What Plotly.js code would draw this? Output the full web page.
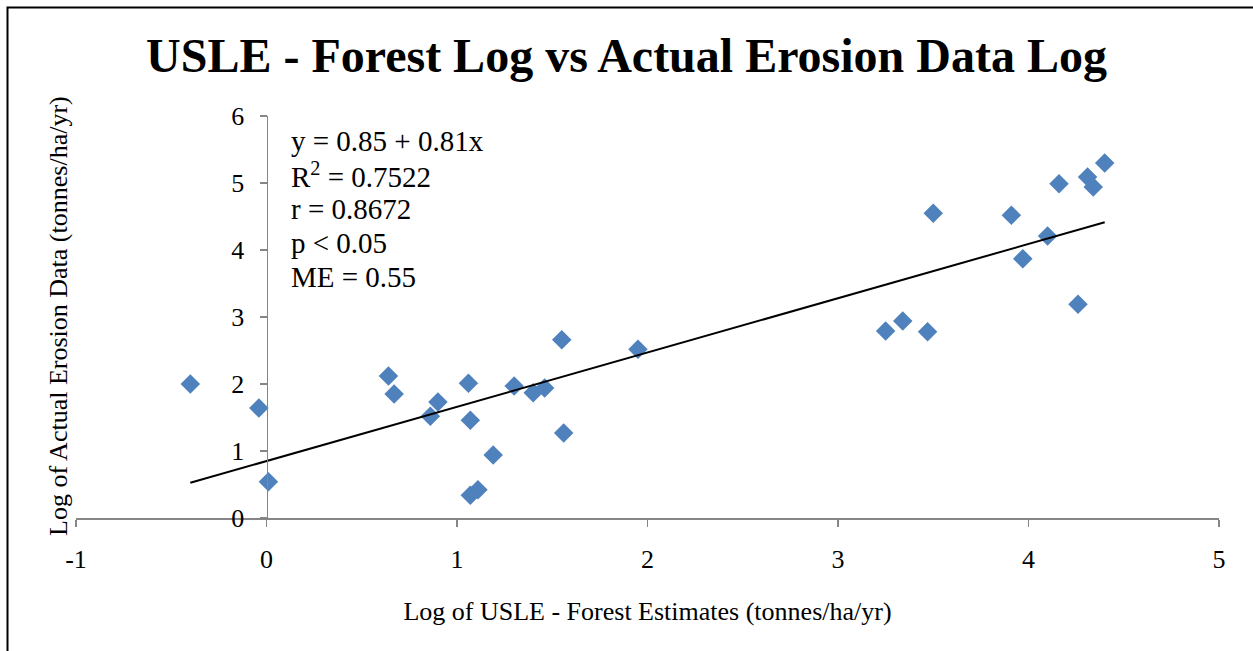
<!DOCTYPE html>
<html><head><meta charset="utf-8">
<script src="https://cdn.plot.ly/plotly-3.0.1.min.js"></script>
<style>html,body{margin:0;padding:0;background:#fff;}#chart{width:1253px;height:651px;}</style>
</head><body><div id="chart"></div>
<script>
const usleLog = [-0.40,-0.04,0.01,0.64,0.67,0.86,0.90,1.06,1.07,1.07,1.11,1.19,1.30,1.40,1.46,1.55,1.56,1.95,3.25,3.34,3.47,3.50,3.91,3.97,4.10,4.16,4.26,4.31,4.34,4.40];
const actualLog = [2.00,1.64,0.54,2.12,1.85,1.52,1.73,2.01,1.46,0.34,0.42,0.94,1.97,1.87,1.94,2.66,1.27,2.52,2.79,2.94,2.78,4.55,4.52,3.87,4.21,4.99,3.19,5.09,4.94,5.30];
const intercept = 0.85, slope = 0.81;
const statsLines = ["y = 0.85 + 0.81x","R<sup>2</sup> = 0.7522","r = 0.8672","p &lt; 0.05","ME = 0.55"];
const xTicks = [-1,0,1,2,3,4,5];
const yTicks = [0,1,2,3,4,5,6];

const xmin = Math.min(...usleLog), xmax = Math.max(...usleLog);
const trendX = [xmin, xmax];
const trendY = trendX.map(v => intercept + slope*v);

const serif = "'Liberation Serif', 'Times New Roman', serif";
const data = [
  {x: usleLog, y: actualLog, type:'scatter', mode:'markers',
   marker:{symbol:'diamond', size:15, color:'#4F81BD'}, hoverinfo:'x+y'},
  {x: trendX, y: trendY, type:'scatter', mode:'lines', line:{color:'#000', width:2}, hoverinfo:'skip'}
];
const statAnn = statsLines.map((t,i) => ({
  text:t, xref:'paper', yref:'paper', x:(289-76)/1143, y:(518-(141+34*i))/402,
  xanchor:'left', yanchor:'middle', align:'left', showarrow:false,
  font:{family:serif, size:29, color:'#000'}
}));
const layout = {
  width:1253, height:651,
  margin:{l:76, r:34, t:116, b:133},
  paper_bgcolor:'#fff', plot_bgcolor:'#fff',
  showlegend:false,
  font:{family:serif, color:'#000', size:25},
  title:{text:'<b>USLE - Forest Log vs Actual Erosion Data Log</b>', font:{family:serif, size:48, color:'#000'}, x:0.5, xanchor:'center', y:0.915, yanchor:'middle'},
  xaxis:{range:[-1,5], tickvals:xTicks, ticktext:xTicks.map(String), showgrid:false, zeroline:false,
    showline:true, linecolor:'#868686', linewidth:1.5, ticks:'outside', ticklen:7, tickcolor:'#868686', tickwidth:1.5,
    ticklabelstandoff:10,
    tickfont:{family:serif, size:26, color:'#000'}, fixedrange:true,
    title:{text:'Log of USLE - Forest Estimates (tonnes/ha/yr)', font:{family:serif, size:26, color:'#000'}, standoff:29}},
  yaxis:{range:[0,6], tickvals:yTicks, ticktext:yTicks.map(String), showgrid:false, zeroline:false,
    anchor:'free', position:1/6,
    showline:true, linecolor:'#868686', linewidth:1.5, ticks:'outside', ticklen:7, tickcolor:'#868686', tickwidth:1.5,
    ticklabelstandoff:10,
    tickfont:{family:serif, size:26, color:'#000'}, fixedrange:true},
  annotations:statAnn.concat([
    {text:'Log of Actual Erosion Data (tonnes/ha/yr)', xref:'paper', yref:'paper', x:(58-76)/1143, y:(518-316)/402, xanchor:'center', yanchor:'middle', textangle:-90, showarrow:false, font:{family:serif, size:26, color:'#000'}}
  ]),
  shapes:[
    {type:'rect', xref:'paper', yref:'paper', x0:(7.5-76)/1143, x1:(1260-76)/1143, y0:(518-660)/402, y1:(518-7.5)/402, line:{color:'#000', width:2}, fillcolor:'rgba(0,0,0,0)', layer:'above'}
  ]
};
Plotly.newPlot('chart', data, layout, {displayModeBar:false, staticPlot:true});
</script></body></html>
